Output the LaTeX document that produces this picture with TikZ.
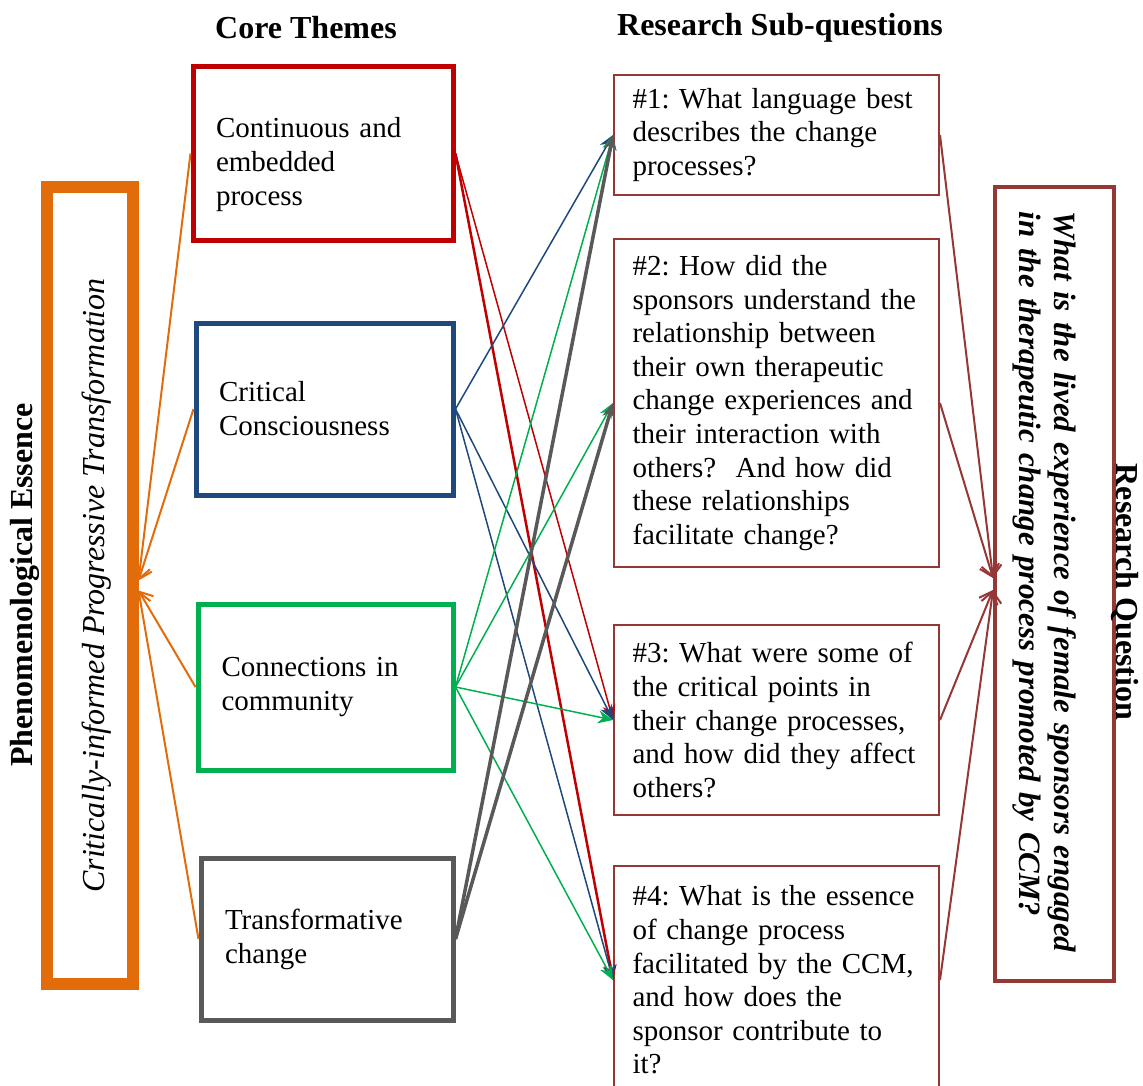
\documentclass[tikz,border=0pt]{standalone}
\usepackage{fontspec}
\setmainfont{Liberation Serif}[ItalicFont={Liberation Serif Italic},BoldFont={Liberation Serif Bold},BoldItalicFont={Liberation Serif Bold Italic}]
\usepackage{tikz}
\usetikzlibrary{positioning,arrows.meta,calc}
\definecolor{themered}{RGB}{192,0,0}
\definecolor{themeblue}{RGB}{31,73,125}
\definecolor{themegreen}{RGB}{0,176,80}
\definecolor{themegray}{RGB}{89,89,89}
\definecolor{essorange}{RGB}{227,108,10}
\definecolor{qbrown}{RGB}{149,55,53}
\tikzset{
  theme/.style   = {draw, line width=5pt, align=left, inner sep=0pt, font=\fontsize{29}{34}\selectfont},
  subq/.style    = {draw=qbrown, line width=2pt, align=left, inner sep=0pt, text width=288pt, minimum width=325pt, font=\fontsize{29}{33.6}\selectfont},
  heading/.style = {font=\fontsize{32}{36}\selectfont\bfseries},
  link/.style    = {-{Stealth[length=15pt,width=13pt]}, line width=1.5pt},
  feed/.style    = {-{Straight Barb[length=11pt,width=20pt]}, line width=2pt},
}

\begin{document}
\frenchspacing\hyphenpenalty=10000
\begin{tikzpicture}[x=1pt,y=-1pt]
  \useasboundingbox (0,0) rectangle (1143,1086);
  % headings
  \node[heading] (coretitle) at (306,28) {Core Themes};
  \node[heading] (subqtitle) at (780,28) {Research Sub-questions};

  % essence on the left
  \node[draw=essorange, line width=12pt, rotate=90, minimum width=796pt, minimum height=86pt, text height=36pt,
        font=\fontsize{32}{36}\selectfont\itshape] (ess) at (89.5,585.5) {Critically-informed Progressive Transformation};
  \node[heading, rotate=90] (phen) at (25,585) {Phenomenological Essence};

  % core themes
  \node[theme, draw=themered, minimum width=260pt, minimum height=173pt, text width=214pt, text height=42pt] (cont) at (323,153.5) {Continuous and\\embedded\\process};
  \node[theme, draw=themeblue, minimum width=257pt, minimum height=172pt, text width=211pt] (crit) at (324.5,409) {Critical\\Consciousness};
  \node[theme, draw=themegreen, minimum width=255pt, minimum height=166pt, text width=208pt] (conn) at (325.5,687) {Connections in\\community};
  \node[theme, draw=themegray, minimum width=252pt, minimum height=162pt, text width=204pt] (trans) at (327,939) {Transformative\\change};

  % sub-questions
  \node[subq, minimum height=120pt] (sq1) at (776.5,135) {\#1: What language best\\describes the change\\processes?};
  \node[subq, minimum height=328pt] (sq2) at (776.5,403) {\#2: How did the\\sponsors understand the\\relationship between\\their own therapeutic\\change experiences and\\their interaction with\\others?~ And how did\\these relationships\\facilitate change?};
  \node[subq, minimum height=190pt] (sq3) at (776.5,720) {\#3: What were some of\\the critical points in\\their change processes,\\and how did they affect\\others?};
  \node[subq, minimum height=228pt] (sq4) at (776.5,980) {\#4: What is the essence\\of change process\\facilitated by the CCM,\\and how does the\\sponsor contribute to\\it?};

  % research question on the right
  \node[draw=qbrown, line width=4pt, rotate=-90, minimum width=794pt, minimum height=119pt,
        text width=744pt, text height=42pt, align=left, inner sep=0pt,
        font=\fontsize{31}{35}\selectfont\bfseries\itshape] (rq) at (1054.5,584) {What is the lived experience of female sponsors engaged\\in the therapeutic change process promoted by CCM?};
  \node[heading, rotate=-90] (rqlabel) at (1125,592) {Research Question};

  \coordinate (essup) at ($(ess.south)+(0,-5)$);
  \coordinate (essdown) at ($(ess.south)+(0,5)$);
  \coordinate (rqup) at ($(rq.south)+(0,-6)$);
  \coordinate (rqdown) at ($(rq.south)+(0,6)$);

  % themes into the essence
  \draw[feed, essorange] (cont.west) -- (essup);
  \draw[feed, essorange] (crit.west) -- (essup);
  \draw[feed, essorange] (conn.west) -- (essdown);
  \draw[feed, essorange] (trans.west) -- (essdown);

  % themes to sub-questions
  \draw[link, themered] (cont.east) -- (sq3.west);
  \draw[link, themered, line width=2.5pt] (cont.east) -- (sq4.west);
  \draw[link, themeblue] (crit.east) -- (sq1.west);
  \draw[link, themeblue] (crit.east) -- (sq3.west);
  \draw[link, themeblue] (crit.east) -- (sq4.west);
  \draw[link, themegreen] (conn.east) -- (sq1.west);
  \draw[link, themegreen] (conn.east) -- (sq2.west);
  \draw[link, themegreen] (conn.east) -- (sq3.west);
  \draw[link, themegreen] (conn.east) -- (sq4.west);
  \draw[link, themegray, line width=3.5pt] (trans.east) -- (sq1.west);
  \draw[link, themegray, line width=3.5pt] (trans.east) -- (sq2.west);

  % sub-questions into the research question
  \draw[feed, qbrown] (sq1.east) -- (rqup);
  \draw[feed, qbrown] (sq2.east) -- (rqup);
  \draw[feed, qbrown] (sq3.east) -- (rqdown);
  \draw[feed, qbrown] (sq4.east) -- (rqdown);
\end{tikzpicture}
\end{document}
